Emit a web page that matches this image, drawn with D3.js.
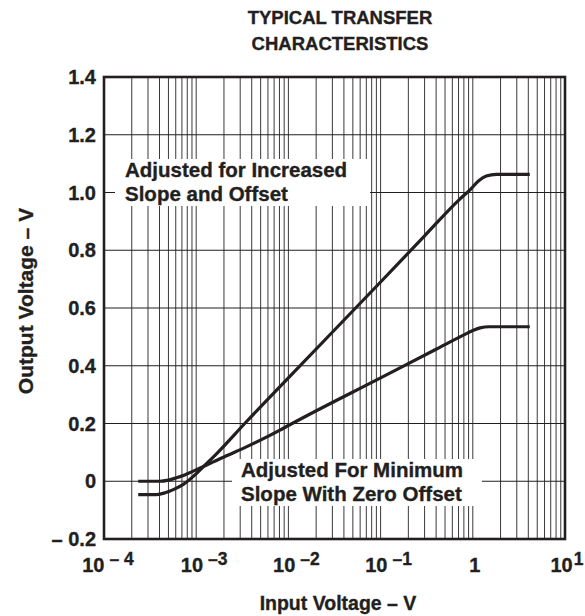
<!DOCTYPE html>
<html><head><meta charset="utf-8">
<script src="https://cdn.jsdelivr.net/npm/d3@7"></script>
<style>
body{margin:0;background:#fff;}
text{font-family:"Liberation Sans",Arial,Helvetica,sans-serif;font-weight:bold;fill:#231f20;stroke:#231f20;stroke-width:0.35px;}
</style></head><body>
<svg id="c" width="585" height="616"></svg>
<script>
// ---- data ----
const titleLines = ["TYPICAL TRANSFER", "CHARACTERISTICS"];
const xLabel = "Input Voltage – V";
const yLabel = "Output Voltage – V";
const yTicks = [-0.2, 0, 0.2, 0.4, 0.6, 0.8, 1.0, 1.2, 1.4];
const yTickLabels = ["– 0.2", "0", "0.2", "0.4", "0.6", "0.8", "1.0", "1.2", "1.4"];
const xTicks = [1e-4, 1e-3, 1e-2, 1e-1, 1, 10];
const xTickBase = ["10", "10", "10", "10", "1", "10"];
const xTickExp = ["– 4", "–3", "–2", "–1", "", "1"];

// Adjusted for increased slope and offset
const upperX = [2.35e-4, 3.7e-4, 4.6e-4, 5.65e-4, 7.25e-4, 9.3e-4, 1.19e-3, 1.67e-3, 3.5e-3, 1e-2, 0.1, 0.3, 0.7, 0.95, 1.15, 1.4, 1.8, 4.15];
const upperY = [-0.046, -0.046, -0.04, -0.029, -0.011, 0.017, 0.05, 0.096, 0.206, 0.358, 0.69, 0.85, 0.973, 1.012, 1.04, 1.057, 1.063, 1.063];
// Adjusted for minimum slope with zero offset
const lowerX = [2.35e-4, 4e-4, 5e-4, 6.1e-4, 7.5e-4, 9.3e-4, 1.2e-3, 1.53e-3, 2.2e-3, 3.5e-3, 8e-3, 1e-2, 0.1, 0.4, 0.8, 1.0, 1.2, 1.5, 4.15];
const lowerY = [0, 0, 0.004, 0.012, 0.022, 0.035, 0.051, 0.067, 0.09, 0.119, 0.176, 0.193, 0.358, 0.457, 0.507, 0.522, 0.531, 0.535, 0.535];

const note1 = ["Adjusted for Increased", "Slope and Offset"];
const note2 = ["Adjusted For Minimum", "Slope With Zero Offset"];

// ---- layout ----
const L = 104, R = 565, T = 77, B = 539;
const svg = d3.select("#c");
const x = d3.scaleLog().domain([1e-4, 10]).range([L, R]);
const y = d3.scaleLinear().domain([-0.2, 1.4]).range([B, T]);
const ink = "#231f20";

// grid
const g = svg.append("g");
const minor = x.ticks().filter(v => v > 1e-4 && v < 10);
g.selectAll("line.vx").data(minor).enter().append("line")
  .attr("x1", d => x(d)).attr("x2", d => x(d)).attr("y1", T).attr("y2", B)
  .attr("stroke", "#3a3a3a").attr("stroke-width", 1);
g.selectAll("line.hy").data(yTicks.filter(v => v > -0.2 && v < 1.4)).enter().append("line")
  .attr("x1", L).attr("x2", R).attr("y1", d => y(d)).attr("y2", d => y(d))
  .attr("stroke", "#231f20").attr("stroke-width", 1);

// note boxes (white behind text)
function note(lines, x0, yb, box) {
  svg.append("rect").attr("x", box[0]).attr("y", box[1]).attr("width", box[2]).attr("height", box[3]).attr("fill", "#fff");
  const t = svg.append("text").attr("font-size", 20.5);
  lines.forEach((s, i) => t.append("tspan").attr("x", x0).attr("y", yb + i * 24).text(s));
}
note(note1, 125, 177, [115, 159, 255, 47]);
note(note2, 241, 477, [232, 459, 250, 47]);

// curves
const line = d3.line().x(d => x(d[0])).y(d => y(d[1])).curve(d3.curveMonotoneX);
[[upperX, upperY], [lowerX, lowerY]].forEach(([xs, ys]) => {
  svg.append("path").datum(xs.map((v, i) => [v, ys[i]]))
    .attr("d", line).attr("fill", "none").attr("stroke", ink).attr("stroke-width", 3.2)
    .attr("stroke-linejoin", "round");
});

// frame
svg.append("rect").attr("x", L).attr("y", T).attr("width", R - L).attr("height", B - T)
  .attr("fill", "none").attr("stroke", ink).attr("stroke-width", 2.6);

// y tick labels
svg.selectAll("text.yt").data(yTicks).enter().append("text")
  .attr("x", 96).attr("y", d => y(d) + 7).attr("text-anchor", "end").attr("font-size", 20)
  .text((d, i) => yTickLabels[i]);

// x tick labels
xTicks.forEach((v, i) => {
  const t = svg.append("text").attr("x", x(v) + (i === 0 ? 4 : i < 4 ? 8 : 2)).attr("y", 572).attr("text-anchor", "middle").attr("font-size", 20);
  t.append("tspan").text(xTickBase[i]);
  if (xTickExp[i]) t.append("tspan").attr("dy", -7).attr("dx", i === 5 ? 1 : 5).attr("font-size", 17.5).text(xTickExp[i]);
});

// axis titles
svg.append("text").attr("x", 338).attr("y", 610).attr("text-anchor", "middle").attr("font-size", 19.5).text(xLabel);
svg.append("text").attr("transform", "translate(33,301) rotate(-90)").attr("text-anchor", "middle").attr("font-size", 21).text(yLabel);

// title
titleLines.forEach((s, i) => svg.append("text").attr("x", 340).attr("y", 24 + i * 26)
  .attr("text-anchor", "middle").attr("font-size", 18.5).text(s));
</script></body></html>
